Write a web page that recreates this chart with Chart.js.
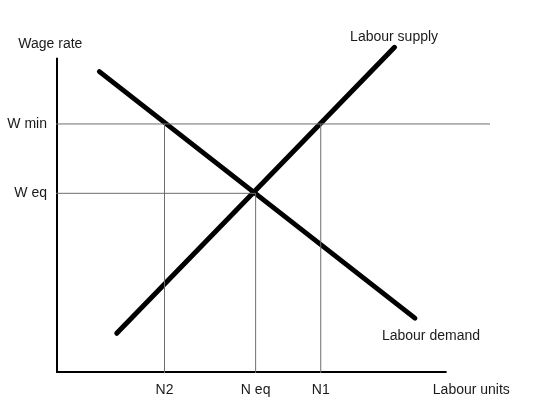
<!DOCTYPE html>
<html>
<head>
<meta charset="utf-8">
<title>Labour market</title>
<script src="https://cdn.jsdelivr.net/npm/chart.js@4"></script>
<style>
    html, body { margin: 0; padding: 0; background: #fff; }
    .chart-box { position: relative; width: 560px; height: 420px; }
</style>
</head>
<body>
<div class="chart-box"><canvas id="labourChart"></canvas></div>
<script>
// Tick positions and their labels (axis units are arbitrary)
const xTickValues = [25, 46, 61];
const xTickLabels = ['N2', 'N eq', 'N1'];
const yTickValues = [79, 57];
const yTickLabels = ['W min', 'W eq'];

// Supply and demand curves: end points
const supplyX = [14, 78];
const supplyY = [12.6, 103.3];
const demandX = [10, 82.7];
const demandY = [95.6, 17.4];

// Axis extents
const xAxisEnd = 90;
const yAxisEnd = 100;
const wMinLineEnd = 100;

const textColor = '#1a1a1a';
const guideColor = '#6e6e6e';
const fontFamily = "'Liberation Sans', Arial, sans-serif";

const toPoints = (xs, ys) => xs.map((x, i) => ({ x: x, y: ys[i] }));

function lineSet(points, color, width, cap) {
    return {
        data: points,
        showLine: true,
        borderColor: color,
        borderWidth: width,
        borderCapStyle: cap || 'butt',
        pointRadius: 0,
        fill: false
    };
}

const wMin = yTickValues[0], wEq = yTickValues[1];
const n2 = xTickValues[0], nEq = xTickValues[1], n1 = xTickValues[2];

const datasets = [
    // guide lines
    lineSet([{ x: 0, y: wMin }, { x: wMinLineEnd, y: wMin }], guideColor, 1),
    lineSet([{ x: 0, y: wEq }, { x: nEq, y: wEq }], guideColor, 1),
    lineSet([{ x: n2, y: 0 }, { x: n2, y: wMin }], guideColor, 1),
    lineSet([{ x: nEq, y: 0 }, { x: nEq, y: wEq }], guideColor, 1),
    lineSet([{ x: n1, y: 0 }, { x: n1, y: wMin }], guideColor, 1),
    // axes
    lineSet([{ x: 0, y: yAxisEnd }, { x: 0, y: 0 }, { x: xAxisEnd, y: 0 }], '#000', 4, 'butt'),
    // curves
    lineSet(toPoints(supplyX, supplyY), '#000', 5, 'round'),
    lineSet(toPoints(demandX, demandY), '#000', 5, 'round')
];

// Text labels placed in data coordinates
const textLabels = [
    { text: 'Wage rate', x: -1.3, y: 104.4, align: 'center' },
    { text: 'Labour supply', x: 77.9, y: 106.7, align: 'center' },
    { text: 'Labour demand', x: 86.4, y: 11.7, align: 'center' },
    { text: 'Labour units', x: 95.7, y: -5.4, align: 'center' }
];

const labelPlugin = {
    id: 'labels',
    afterDatasetsDraw(chart) {
        const c = chart.ctx;
        const xs = chart.scales.x, ys = chart.scales.y;
        c.save();
        c.fillStyle = textColor;
        c.font = '14px ' + fontFamily;
        c.textBaseline = 'middle';
        textLabels.forEach(l => {
            c.textAlign = l.align;
            c.fillText(l.text, xs.getPixelForValue(l.x), ys.getPixelForValue(l.y));
        });
        // x tick labels
        c.textAlign = 'center';
        const tickY = ys.getPixelForValue(0) + 17;
        xTickValues.forEach((v, i) => {
            c.fillText(xTickLabels[i], xs.getPixelForValue(v), tickY);
        });
        // y tick labels
        c.textAlign = 'right';
        const tickX = xs.getPixelForValue(0) - 9;
        yTickValues.forEach((v, i) => {
            c.fillText(yTickLabels[i], tickX, ys.getPixelForValue(v));
        });
        c.restore();
    }
};

new Chart(document.getElementById('labourChart').getContext('2d'), {
    type: 'scatter',
    data: { datasets: datasets },
    options: {
        responsive: true,
        maintainAspectRatio: false,
        animation: false,
        layout: { padding: { left: 56, right: 70, top: 42, bottom: 47 } },
        scales: {
            x: { type: 'linear', min: 0, max: 100, display: false },
            y: { type: 'linear', min: 0, max: 105, display: false }
        },
        plugins: {
            legend: { display: false },
            tooltip: { enabled: false }
        },
        elements: { line: { tension: 0 } }
    },
    plugins: [labelPlugin]
});
</script>
</body>
</html>
